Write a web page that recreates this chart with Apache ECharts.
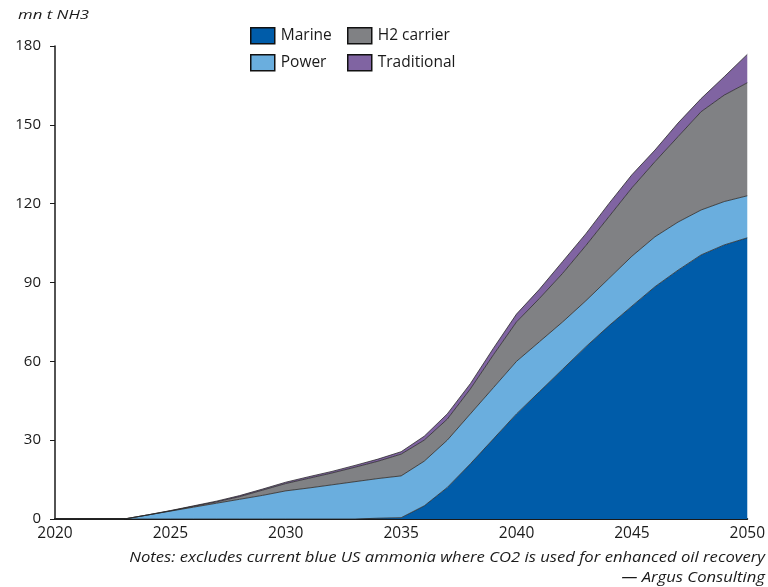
<!DOCTYPE html>
<html>
<head>
<meta charset="utf-8">
<script src="https://cdn.jsdelivr.net/npm/echarts@6/dist/echarts.min.js"></script>
<style>
html,body{margin:0;padding:0;background:#fff;}
#c{width:768px;height:587px;}
</style>
</head>
<body>
<div id="c"></div>
<script>
const years = ['2020','2021','2022','2023','2024','2025','2026','2027','2028','2029','2030','2031','2032','2033','2034','2035','2036','2037','2038','2039','2040','2041','2042','2043','2044','2045','2046','2047','2048','2049','2050'];
const marine = [0,0,0,0,0,0,0,0,0,0,0,0,0,0,0.3,0.5,5,12,21,30.5,40,48.5,57,65.5,73.5,81,88.4,94.7,100.5,104.3,107];
const power = [0,0,0,0,1.5,3,4.5,6,7.5,9,10.7,11.8,13,14.2,15.1,15.9,17,18,19,19.5,20,19,18,17.5,18,19,19,18.3,17.1,16.5,16];
const h2carrier = [0,0,0,0,0,0.1,0.3,0.5,1,2,2.8,3.7,4.5,5.5,6.6,8.3,8,8,9.5,12.5,15,16.5,18.5,21,23.5,26,28.6,32.5,37.4,40.5,43];
const traditional = [0,0,0,0,0.05,0.1,0.2,0.3,0.4,0.4,0.5,0.6,0.6,0.7,0.8,0.9,1.5,2,2,2.5,3,3.5,4.5,4.5,5,5,4.4,5.2,5,7,10.8];
const yTicks = {min:0, max:180, interval:30};
const unitLabel = 'mn t NH3';
const notes1 = 'Notes: excludes current blue US ammonia where CO2 is used for enhanced oil recovery';
const notes2 = '— Argus Consulting';

const FONT = '"Open Sans", "DejaVu Sans", sans-serif';
const colors = {Marine:'#005ca9', Power:'#6aaede', 'H2 carrier':'#808184', Traditional:'#8064a2'};

function mkSeries(name, data){
  return {
    name: name, type:'line', stack:'total', data: data,
    symbol:'none', smooth:false,
    lineStyle:{color:'#2a2a2a', width:0.8},
    areaStyle:{color:colors[name], opacity:1},
    itemStyle:{color:colors[name], borderColor:'#111', borderWidth:1.2},
    emphasis:{disabled:true}
  };
}
function mkLegend(name, left, top){
  return {
    data:[name], left:left, top:top, itemWidth:24, itemHeight:16, itemGap:0,
    icon:'rect', selectedMode:false,
    textStyle:{fontFamily:FONT, fontSize:15.5, color:'#1a1a1a', padding:[0,0,0,1]},
    itemStyle:{borderColor:'#111', borderWidth:1.5}
  };
}

const chart = echarts.init(document.getElementById('c'), null, {renderer:'canvas'});
chart.setOption({
  animation:false,
  backgroundColor:'#fff',
  grid:{left:55, right:20, top:46, bottom:68, containLabel:false},
  legend:[
    mkLegend('Marine', 245, 22),
    mkLegend('H2 carrier', 342, 22),
    mkLegend('Power', 245, 49),
    mkLegend('Traditional', 342, 49)
  ],
  xAxis:{
    type:'category', data:years, boundaryGap:false,
    axisLine:{lineStyle:{color:'#1a1a1a', width:2}},
    axisTick:{show:false},
    axisLabel:{interval:4, fontFamily:FONT, fontSize:15.5, color:'#1a1a1a', margin:7, showMaxLabel:true},
    splitLine:{show:false}
  },
  yAxis:{
    type:'value', min:yTicks.min, max:yTicks.max, interval:yTicks.interval,
    axisLine:{show:true, lineStyle:{color:'#1a1a1a', width:1.5}},
    axisTick:{show:true, length:5, lineStyle:{color:'#1a1a1a'}},
    axisLabel:{fontFamily:FONT, fontSize:15, color:'#1a1a1a', margin:14},
    splitLine:{show:false}
  },
  graphic:[
    {type:'text', x:18, y:16, scaleX:1.4, style:{text:unitLabel, font:'italic 12px '+FONT, fill:'#1a1a1a', textVerticalAlign:'middle'}},
    {type:'text', x:765, y:558, scaleX:1.11, style:{text:notes1, font:'italic 15px '+FONT, fill:'#1a1a1a', textAlign:'right', textVerticalAlign:'middle'}},
    {type:'text', x:765, y:578, scaleX:1.11, style:{text:notes2, font:'italic 15px '+FONT, fill:'#1a1a1a', textAlign:'right', textVerticalAlign:'middle'}}
  ],
  series:[
    mkSeries('Marine', marine),
    mkSeries('Power', power),
    mkSeries('H2 carrier', h2carrier),
    mkSeries('Traditional', traditional)
  ]
});
</script>
</body>
</html>
